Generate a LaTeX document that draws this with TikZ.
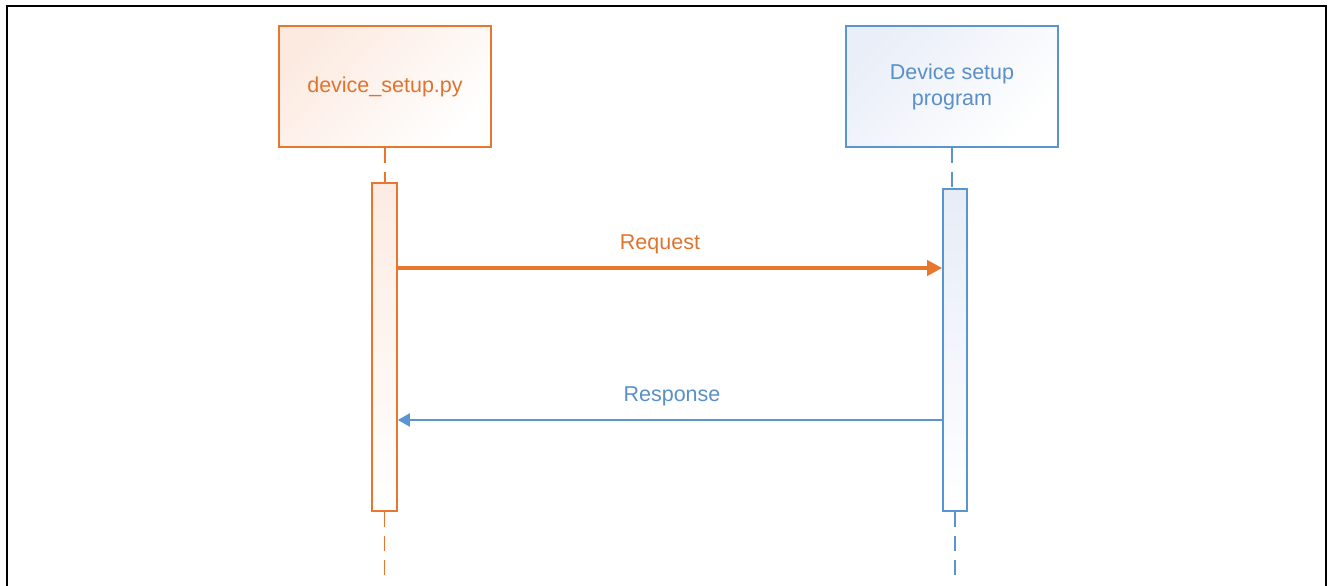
\documentclass[tikz,border=0pt]{standalone}
\usepackage{fontspec}
\setmainfont{Liberation Sans}
\usetikzlibrary{arrows.meta}
\definecolor{org}{HTML}{E8772E}
\definecolor{orgtxt}{HTML}{E0742F}
\definecolor{orgfill}{HTML}{FBE3D6}
\definecolor{blu}{HTML}{5B95D0}
\definecolor{blutxt}{HTML}{5A8FC8}
\definecolor{blufill}{HTML}{E4EAF6}
\tikzset{
  lifebox/.style={draw, line width=1.6pt, minimum width=212pt, minimum height=121pt, inner sep=0pt, align=center, font=\fontsize{21.5}{26}\selectfont},
  actbox/.style={draw, line width=1.6pt, inner sep=0pt},
  lifeline/.style={line width=1.8pt, dash pattern=on 15pt off 9pt},
  msg/.style={font=\fontsize{21.5}{26}\selectfont}
}
\begin{document}
\begin{tikzpicture}[x=1pt,y=-1pt]
\useasboundingbox (0,0) rectangle (1328,586);
\draw[line width=2pt, black] (7,590) -- (7,6) -- (1326,6) -- (1326,590);
% lifeline heads
\node[lifebox, color=org, text=orgtxt, shade, top color=orgfill!75, bottom color=white, shading angle=45] (a) at (385,86.5) {device\_setup.py};
\node[lifebox, color=blu, text=blutxt, shade, top color=blufill!80, bottom color=white, shading angle=45] (b) at (952,86.5) {Device setup\\program};
% activations
\node[actbox, color=org, minimum width=25pt, minimum height=328pt, shade, top color=orgfill!70, bottom color=white] (aa) at (384.5,347) {};
\node[actbox, color=blu, minimum width=24pt, minimum height=322pt, shade, top color=blufill!90, bottom color=white] (ba) at (955,350) {};
% lifelines
\coordinate (aend) at (384.5,575);
\coordinate (bend) at (955,575);
\draw[lifeline, org] (a.south) -- (a.south |- aa.north);
\draw[lifeline, org] (aa.south) -- (aend);
\draw[lifeline, blu] (b.south) -- (b.south |- ba.north);
\draw[lifeline, blu] (ba.south) -- (bend);
% messages
\coordinate (ry) at (0,268);
\coordinate (sy) at (0,420);
\draw[org, line width=4pt, -{Triangle[length=15pt,width=15pt]}] (aa.east |- ry) -- (ba.west |- ry);
\draw[blu, line width=2pt, -{Triangle[length=12pt,width=13pt]}] (ba.west |- sy) -- (aa.east |- sy);
\node[msg, text=orgtxt] (rl) at (660,244) {Request};
\node[msg, text=blutxt] (sl) at (672,396) {Response};
\end{tikzpicture}
\end{document}
